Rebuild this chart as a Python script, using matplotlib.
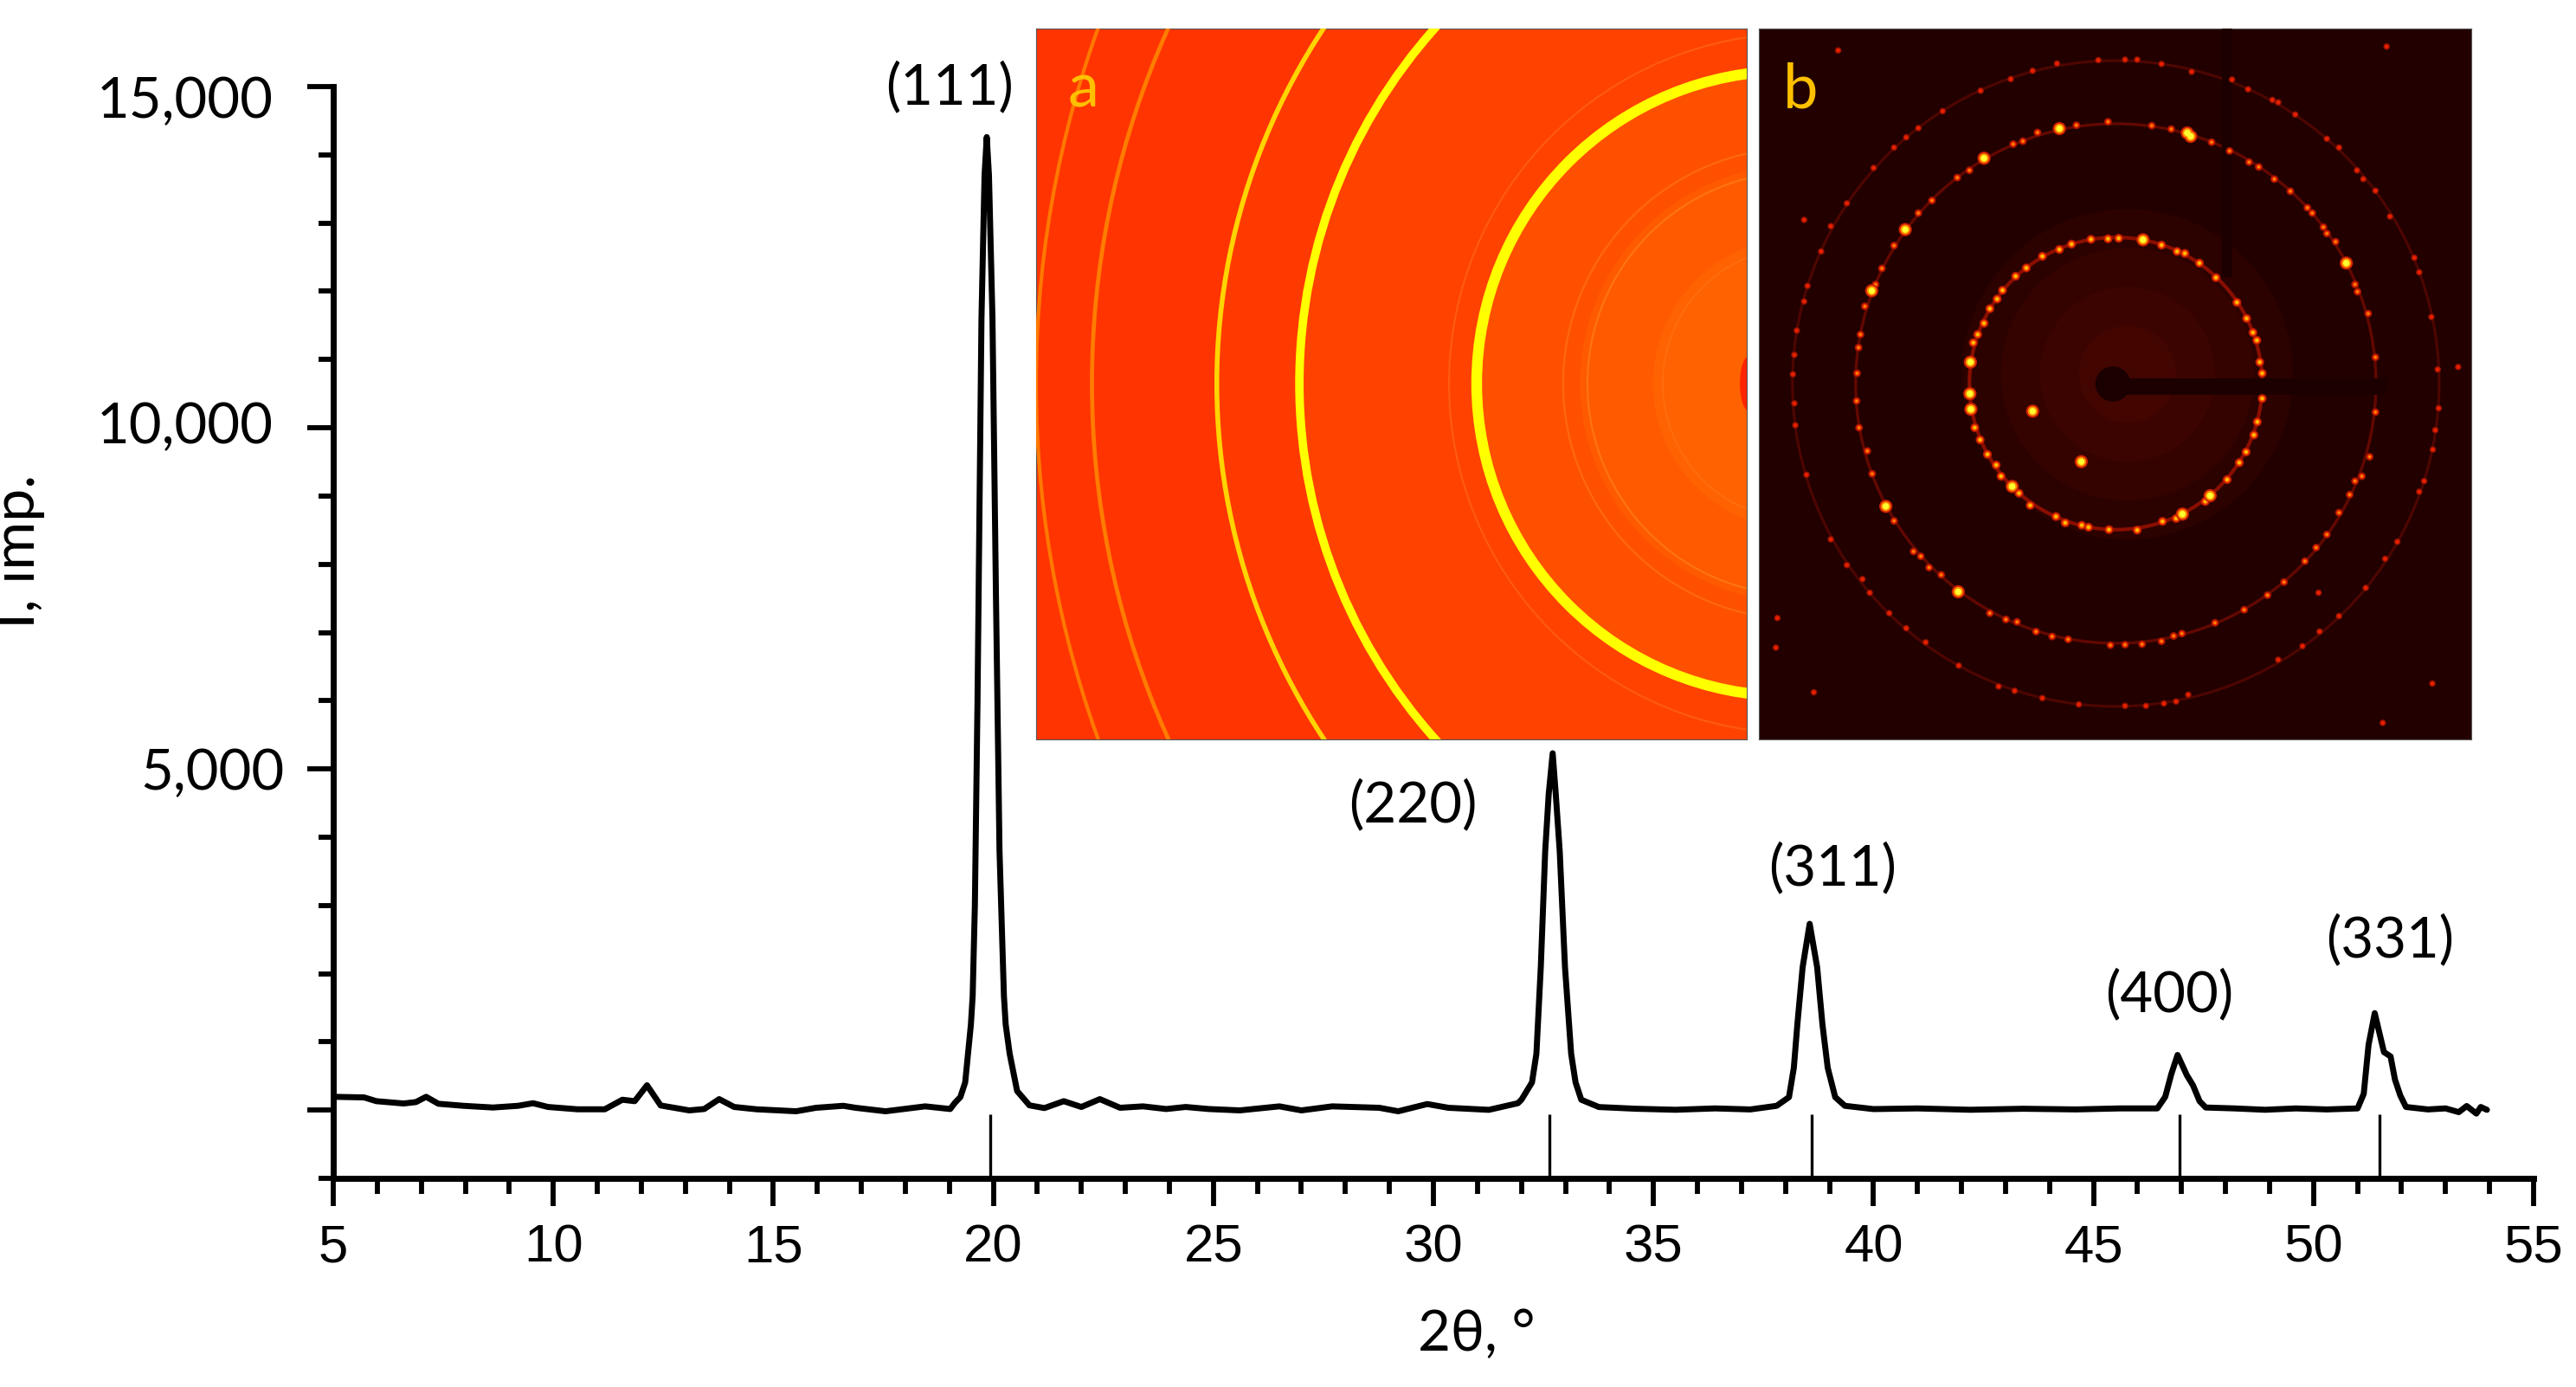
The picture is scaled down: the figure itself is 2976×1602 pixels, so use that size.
#!/usr/bin/env python
"""XRD pattern with two diffraction-image insets (a: rings, b: spotty rings)."""
import matplotlib
matplotlib.use('Agg')
import matplotlib.pyplot as plt
from matplotlib.patches import Circle, Ellipse, Rectangle
from matplotlib.transforms import ScaledTranslation

W, H, DPI = 2976, 1602, 100
plt.rcParams['font.family'] = ['Lato', 'DejaVu Sans']

# pattern
two_theta = [5.0, 5.7, 5.98, 6.6, 6.88, 7.11, 7.39, 7.96, 8.63, 9.2, 9.54, 9.88, 10.55, 11.17,
             11.57, 11.85, 12.13, 12.44, 13.09, 13.43, 13.77, 14.11, 14.62, 15.52, 15.97,
             16.59, 16.87, 17.55, 18.45, 19.02, 19.13, 19.25, 19.36, 19.42, 19.49, 19.53,
             19.58, 19.64, 19.73, 19.80, 19.85, 19.90, 19.98, 20.06, 20.14, 20.24, 20.28,
             20.37, 20.54, 20.82, 21.16, 21.6, 22.0, 22.42, 22.88, 23.4, 23.93, 24.37, 24.89,
             25.6, 26.5, 27.0, 27.7, 28.77, 29.2, 29.86, 30.34, 31.26, 31.92, 32.0, 32.24,
             32.34, 32.44, 32.54, 32.62, 32.71, 32.78, 32.87, 32.99, 33.13, 33.23, 33.36,
             33.76, 34.6, 35.5, 36.4, 37.2, 37.8, 38.08, 38.19, 38.27, 38.39, 38.55, 38.72,
             38.84, 38.96, 39.13, 39.35, 40.0, 41.0, 42.2, 43.4, 44.6, 45.6, 46.45, 46.63,
             46.77, 46.91, 47.12, 47.26, 47.41, 47.55, 48.2, 48.9, 49.6, 50.3, 51.0, 51.14,
             51.25, 51.39, 51.5, 51.6, 51.75, 51.85, 51.97, 52.1, 52.6, 53.0, 53.3, 53.48,
             53.7, 53.8, 53.94]
intensity = [195, 186, 131, 97, 118, 195, 93, 63, 38, 63, 101, 46, 12, 12,
             152, 131, 364, 68, -4, 16, 161, 46, 12, -17, 34,
             63, 34, -17, 55, 16, 110, 190, 406, 800, 1256, 1675,
             3000, 6000, 11600, 13700, 14260, 13700, 11600, 7500, 3800, 1675, 1256,
             830, 280, 70, 30, 131, 46, 161, 34, 55, 16, 46, 16,
             -4, 55, -4, 55, 34, -17, 89, 34, 4, 101, 152, 406,
             825, 2094, 3795, 4632, 5230, 4632, 3795, 2094, 825, 406, 152,
             45, 20, 5, 25, 10, 63, 190, 620, 1256, 2094, 2730, 2094,
             1256, 620, 190, 63, 15, 25, 5, 20, 10, 25, 25, 195,
             533, 808, 512, 364, 131, 38, 25, 5, 25, 10, 25, 237,
             956, 1421, 1125, 850, 787, 448, 216, 46, 10, 25, -30, 60,
             -51, 46, 4]

stick_pos = [19.92, 32.63, 38.59, 46.95, 51.5]
stick_top = -60
peak_labels = ['(111)', '(220)', '(311)', '(400)', '(331)']
peak_label_x = [19.0, 29.53, 39.07, 46.72, 51.74]
peak_label_y = [14990, 4467, 3540, 1690, 2488]

x_major = [5, 10, 15, 20, 25, 30, 35, 40, 45, 50, 55]
x_minor = [6, 7, 8, 9, 11, 12, 13, 14, 16, 17, 18, 19, 21, 22, 23, 24, 26, 27, 28, 29,
           31, 32, 33, 34, 36, 37, 38, 39, 41, 42, 43, 44, 46, 47, 48, 49, 51, 52, 53, 54]
y_major = [0, 5000, 10000, 15000]
y_major_labels = ['', '5,000', '10,000', '15,000']
y_minor = [-1000, 1000, 2000, 3000, 4000, 6000, 7000, 8000, 9000,
           11000, 12000, 13000, 14000]

# inset a: powder rings (centre x, radius, line width, colour)
ring_cx = [1580, 1669, 1726, 1925, 2190]
ring_r = [643, 1097, 1324, 1780, 2160]
ring_lw = [8.9, 7.0, 4.0, 3.4, 3.0]
ring_col = ['#FFFF00', '#FFFF00', '#FFD400', '#FF7C00', '#FF7800']
halo_cx = [1726, 1669, 1580, 1600, 1600]
halo_r = [1324, 1097, 643, 450, 300]
halo_col = ['#FF3A00', '#FF4200', '#FF5000', '#FF5A00', '#FF6200']
faint_r = [280, 435, 485, 720]
faint_col = ['#FF6C0C', '#FF7410', '#FF6810', '#FF5A10']

# inset b: spots along three rings (zoom pixel positions)
inner_spots = [(740, 491), (762, 490), (850, 504), (882, 517), (898, 521), (928, 541), (962, 571),
               (1005, 622), (1025, 655), (1038, 684), (1046, 700), (1052, 745), (1057, 768),
               (1057, 820), (1047, 868), (1040, 895), (1024, 930), (1010, 952), (985, 987),
               (940, 1032), (880, 1067), (852, 1073), (800, 1091), (742, 1090), (700, 1085),
               (686, 1081), (652, 1076), (633, 1063), (580, 1040), (557, 1015), (520, 980),
               (510, 957), (492, 935), (477, 905), (466, 880), (463, 705), (472, 688), (485, 665),
               (497, 635), (512, 615), (523, 597), (550, 568), (572, 551), (605, 527), (640, 513),
               (665, 502), (705, 492)]
middle_spots = [(740, 250), (675, 257), (595, 272), (565, 290), (545, 296), (455, 350), (430, 365),
                (378, 412), (350, 438), (300, 505), (275, 552), (262, 585), (240, 630), (231, 688),
                (227, 715), (224, 768), (223, 825), (228, 880), (245, 928), (255, 975), (300, 1072),
                (340, 1135), (355, 1145), (372, 1168), (397, 1183), (497, 1262), (530, 1275),
                (553, 1280), (592, 1300), (625, 1310), (658, 1316), (745, 1328), (775, 1327),
                (810, 1326), (850, 1320), (875, 1309), (892, 1304), (960, 1282), (1020, 1255),
                (1068, 1225), (1102, 1198), (1145, 1155), (1168, 1127), (1190, 1100), (1215, 1055),
                (1237, 1018), (1248, 990), (1262, 980), (1278, 940), (1290, 848), (1290, 735),
                (1275, 645), (1253, 600), (1248, 585), (1208, 497), (1190, 480), (1183, 467),
                (1160, 438), (1150, 427), (1115, 393), (1082, 368), (1050, 343), (1030, 333),
                (990, 310), (953, 292), (870, 265), (830, 258)]
outer_spots = [(800, 122), (775, 122), (720, 123), (635, 130), (585, 145), (540, 162), (478, 186),
               (400, 228), (350, 263), (325, 282), (300, 303), (258, 345), (203, 418), (170, 465),
               (150, 517), (122, 588), (115, 620), (100, 680), (95, 730), (92, 770), (95, 830),
               (97, 875), (120, 977), (170, 1110), (203, 1163), (235, 1192), (250, 1220), (290, 1262),
               (325, 1293), (365, 1322), (433, 1370), (515, 1413), (548, 1422), (605, 1437), (680, 1450),
               (775, 1453), (818, 1453), (855, 1448), (880, 1444), (905, 1430), (1090, 1358), (1140, 1330),
               (1175, 1300), (1215, 1268), (1270, 1210), (1310, 1150), (1335, 1115), (1380, 1012),
               (1390, 990), (1408, 925), (1413, 885), (1420, 840), (1418, 760), (1405, 652), (1380, 560),
               (1370, 530), (1320, 445), (1290, 392), (1265, 368), (1252, 350), (1215, 303), (1190, 285),
               (1125, 235), (1090, 210), (1078, 205), (1028, 183), (995, 163), (912, 147), (850, 131)]
stray_spots = [(1460, 755), (1313, 95), (1305, 1488), (1407, 1407), (57, 1333), (60, 1272),
               (135, 1425), (1173, 1220), (185, 103), (115, 452)]
bright_spots = [(812, 493), (456, 810), (458, 842), (457, 745), (543, 1001), (950, 1020), (893, 1058),
                (585, 846), (685, 950), (640, 264), (485, 325), (323, 472), (254, 598), (283, 1042),
                (432, 1218), (1230, 541), (910, 280), (903, 273)]
glow_r = [340, 260, 180, 100]
glow_col = ['#2C0200', '#340300', '#3C0400', '#420500']


def px_box(left, top, right, bottom):
    return [left / W, 1 - bottom / H, (right - left) / W, (bottom - top) / H]


def inset_frame(ax):
    ax.set_xticks([]); ax.set_yticks([])
    for s in ax.spines.values():
        s.set_linewidth(0.8); s.set_color('#555555')


def spots(ax, pts, sizes, colours):
    xs = [p[0] for p in pts]
    ys = [p[1] for p in pts]
    for s, c in zip(sizes, colours):
        ax.scatter(xs, ys, s=s, c=c, edgecolors='none', zorder=5)


def draw_inset_a(ax):
    ax.set_facecolor('#FF3400')
    ax.set_xlim(30, 1493); ax.set_ylim(1522, 60)
    for cx, r, c in zip(halo_cx, halo_r, halo_col):
        ax.add_patch(Circle((cx, 790), r, fc=c, ec='none', zorder=1))
    for r, c in zip(faint_r, faint_col):
        ax.add_patch(Circle((1600, 790), r, fill=False, ec=c, lw=1.6, zorder=2))
    ax.add_patch(Ellipse((1496, 790), 34, 110, fc='#FF2400', ec='none', zorder=2))
    for cx, r, lw, c in zip(ring_cx, ring_r, ring_lw, ring_col):
        ax.add_patch(Circle((cx, 790), r, fill=False, ec=c, lw=lw, zorder=3))
    ax.text(128, 222, 'a', color='#FFC000', fontsize=52, ha='center', va='baseline', zorder=6)
    inset_frame(ax)


def draw_inset_b(ax):
    ax.set_facecolor('#230000')
    ax.set_xlim(22, 1487); ax.set_ylim(1522, 58)
    for r, c in zip(glow_r, glow_col):
        ax.add_patch(Circle((780, 770), r, fc=c, ec='none', zorder=1))
    for r, lw, c in zip([301, 535, 665], [3.0, 2.4, 2.2], ['#8A0E00', '#620800', '#4E0600']):
        ax.add_patch(Circle((756, 789), r, fill=False, ec=c, lw=lw, zorder=2))
    ax.add_patch(Rectangle((975, 58), 20, 512, fc='#1C0000', ec='none', zorder=3))
    ax.add_patch(Rectangle((750, 778), 565, 34, fc='#1C0000', ec='none', zorder=3))
    ax.add_patch(Circle((750, 790), 36, fc='#1A0000', ec='none', zorder=3))
    spots(ax, outer_spots, [30, 12], ['#8E1000', '#E62000'])
    spots(ax, stray_spots, [30, 12], ['#8E1000', '#E62000'])
    spots(ax, middle_spots, [42, 18, 5], ['#A01200', '#F03000', '#FF8A00'])
    spots(ax, inner_spots, [55, 26, 9], ['#B81800', '#FF4A00', '#FFC000'])
    spots(ax, bright_spots, [120, 65, 28], ['#D02000', '#FF9000', '#FFFF30'])
    ax.text(108, 222, 'b', color='#FFC000', fontsize=52, ha='center', va='baseline', zorder=6)
    inset_frame(ax)


fig = plt.figure(figsize=(W / DPI, H / DPI), dpi=DPI)
ax = fig.add_axes(px_box(385, 100, 2927, 1361))

ax.vlines(stick_pos, -1000, stick_top, color='black', lw=2.4, zorder=2)
ax.plot(two_theta, intensity, color='black', lw=5, solid_joinstyle='round',
        solid_capstyle='round', zorder=3)

ax.set_xlim(5, 55); ax.set_ylim(-1000, 15000)
ax.set_xticks(x_major)
ax.set_xticks(x_minor, minor=True)
ax.set_yticks(y_major, labels=y_major_labels)
ax.set_yticks(y_minor, minor=True)
ax.spines[['top', 'right']].set_visible(False)
ax.spines[['left', 'bottom']].set_linewidth(5)
ax.tick_params(axis='x', which='major', length=23, width=4.2, pad=15)
ax.tick_params(axis='x', which='minor', length=13, width=4.2)
ax.tick_params(axis='y', which='major', length=21.5, width=4.2, pad=19)
ax.tick_params(axis='y', which='minor', length=12, width=4.2)
for lab in ax.get_xticklabels():
    lab.set_family('Liberation Sans'); lab.set_fontsize(44.5)
for lab in ax.get_yticklabels():
    lab.set_fontsize(47)

# the y labels were placed by hand in the original, each a little off its tick
for lab, (dx, dy) in zip(ax.get_yticklabels(), [(0, 0), (0, 0), (-13, 6), (-13, -12)]):
    lab.set_transform(lab.get_transform()
                      + ScaledTranslation(dx / DPI, -dy / DPI * -1, fig.dpi_scale_trans))

ax.set_xlabel('2θ, °', fontsize=47, labelpad=0)
ax.xaxis.set_label_coords((1706 - 385) / 2542, (1361 - 1512) / 1261)
ax.set_ylabel('I, imp.', fontsize=49)
ax.yaxis.set_label_coords((52 - 385) / 2542, (1361 - 637) / 1261)

for t, x, y in zip(peak_labels, peak_label_x, peak_label_y):
    ax.text(x, y, t, fontsize=47, ha='center', va='center', zorder=6)

draw_inset_a(fig.add_axes(px_box(1197, 33, 2018, 854)))
draw_inset_b(fig.add_axes(px_box(2032, 33, 2855, 854)))

fig.savefig('out.png', dpi=DPI)
